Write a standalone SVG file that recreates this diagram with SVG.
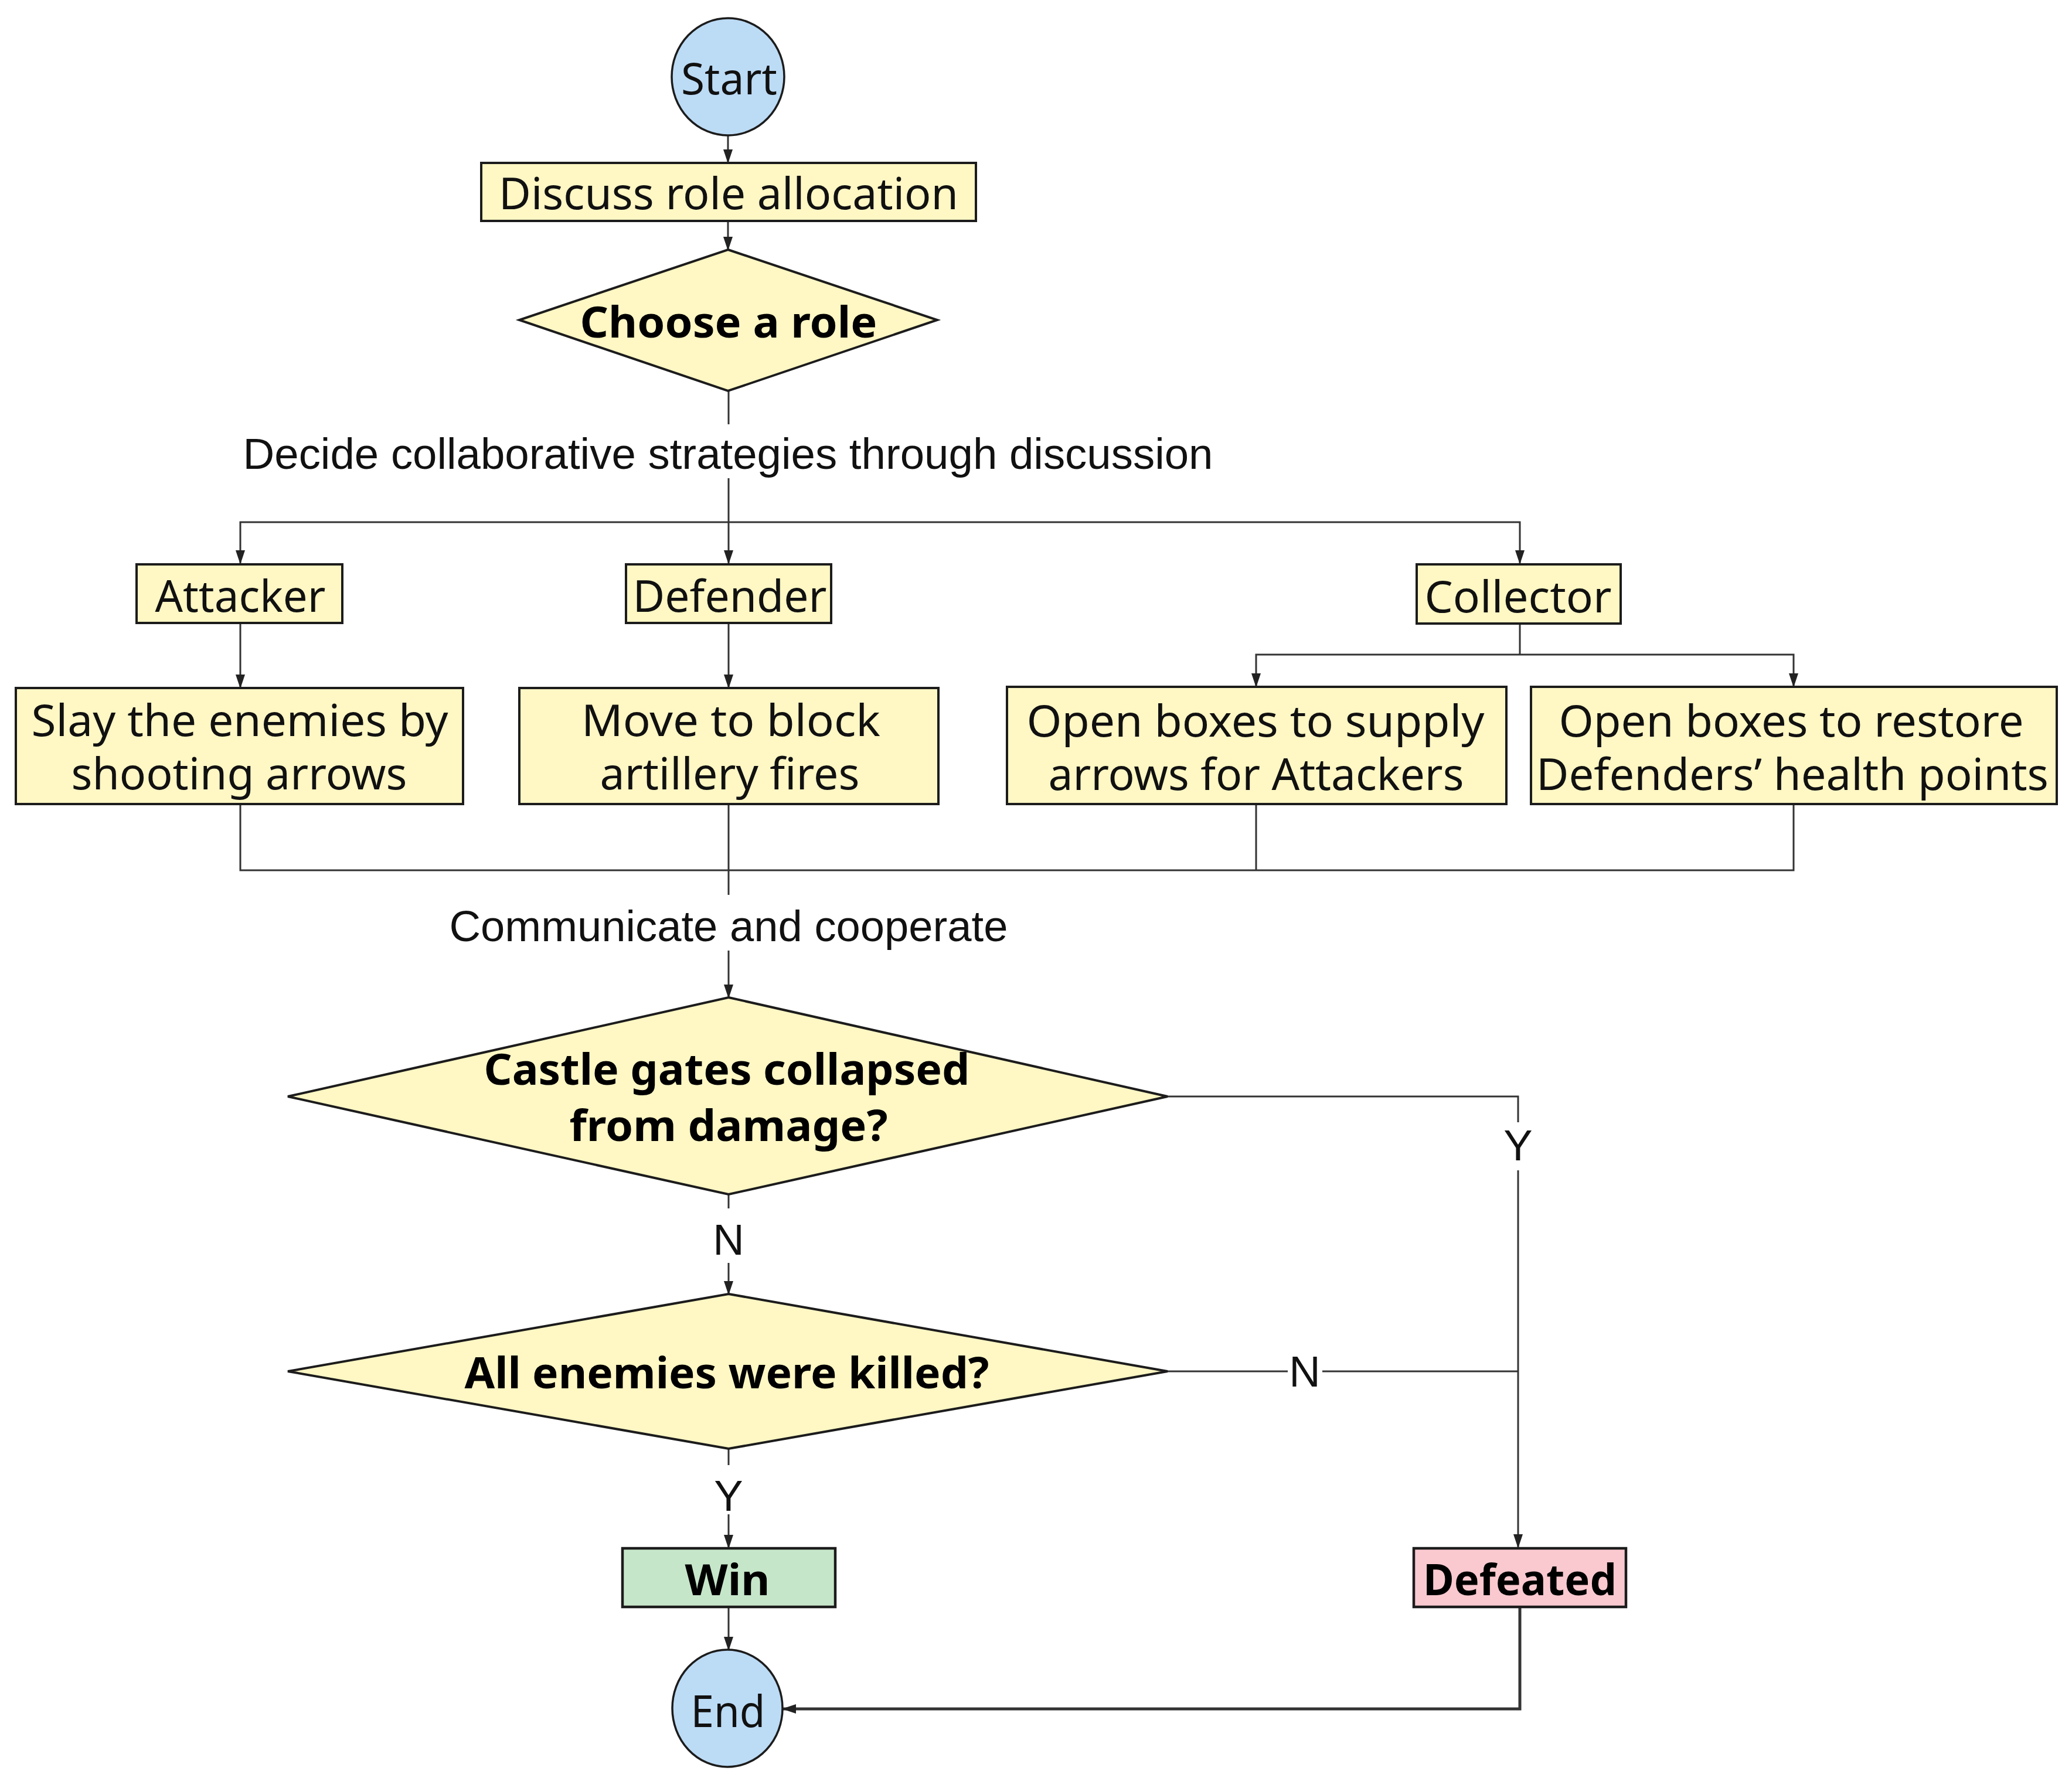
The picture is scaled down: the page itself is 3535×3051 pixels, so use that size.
<svg xmlns="http://www.w3.org/2000/svg" width="3535" height="3051" viewBox="0 0 3535 3051">
<defs>
<marker id="arr" markerUnits="userSpaceOnUse" markerWidth="24" markerHeight="16" refX="22" refY="8" orient="auto-start-reverse" viewBox="0 0 24 16">
<path d="M0,0 L24,8 L0,16 Z" fill="#222"/>
</marker>
<style>
.box{fill:#FFF7C4;stroke:#1c1c1c;stroke-width:4}
.term{fill:#BCDBF5;stroke:#1c1c1c;stroke-width:3.5}
.win{fill:#C6E6C9;stroke:#1c1c1c;stroke-width:4.5}
.lose{fill:#FAC9CF;stroke:#1c1c1c;stroke-width:4.5}
.t{font-family:"Noto Sans","Open Sans","Liberation Sans",sans-serif;font-size:74px;fill:#111;text-anchor:middle}
.b{font-family:"Noto Sans","Open Sans","Liberation Sans",sans-serif;font-size:74px;font-weight:bold;fill:#000;text-anchor:middle}
.l{font-family:"Liberation Sans",Arial,sans-serif;font-size:74px;fill:#111;text-anchor:middle}
.c{fill:none;stroke:#333;stroke-width:3}
</style>
</defs>
<rect width="3535" height="3051" fill="#fff"/>
<g id="connectors">
<line class="c" x1="1242" y1="231" x2="1242" y2="277" marker-end="url(#arr)"/>
<line class="c" x1="1242" y1="377" x2="1242" y2="426" marker-end="url(#arr)"/>
<line class="c" x1="1243" y1="667" x2="1243" y2="724"/>
<line class="c" x1="1243" y1="816" x2="1243" y2="961" marker-end="url(#arr)"/>
<polyline class="c" points="410,961 410,891 2593,891 2593,961" marker-start="url(#arr)" marker-end="url(#arr)"/>
<line class="c" x1="410" y1="1063" x2="410" y2="1173" marker-end="url(#arr)"/>
<line class="c" x1="1243" y1="1063" x2="1243" y2="1173" marker-end="url(#arr)"/>
<line class="c" x1="2593" y1="1064" x2="2593" y2="1117"/>
<polyline class="c" points="2143,1171 2143,1117 3060,1117 3060,1171" marker-start="url(#arr)" marker-end="url(#arr)"/>
<polyline class="c" points="410,1372 410,1485 3060,1485 3060,1372"/>
<line class="c" x1="2143" y1="1372" x2="2143" y2="1485"/>
<line class="c" x1="1243" y1="1372" x2="1243" y2="1527"/>
<line class="c" x1="1243" y1="1622" x2="1243" y2="1702" marker-end="url(#arr)"/>
<polyline class="c" points="1992,1871 2590,1871 2590,1915"/>
<line class="c" x1="2590" y1="1997" x2="2590" y2="2640" marker-end="url(#arr)"/>
<line class="c" x1="1243" y1="2038" x2="1243" y2="2062"/>
<line class="c" x1="1243" y1="2155" x2="1243" y2="2208" marker-end="url(#arr)"/>
<line class="c" x1="1992" y1="2340" x2="2197" y2="2340"/>
<line class="c" x1="2256" y1="2340" x2="2590" y2="2340"/>
<line class="c" x1="1243" y1="2472" x2="1243" y2="2500"/>
<line class="c" x1="1243" y1="2584" x2="1243" y2="2641" marker-end="url(#arr)"/>
<line class="c" x1="1243" y1="2742" x2="1243" y2="2815" marker-end="url(#arr)"/>
<polyline class="c" style="stroke-width:5" points="2593,2742 2593,2916 1336,2916" marker-end="url(#arr)"/>
<text class="l" x="1242" y="800" textLength="1655" lengthAdjust="spacingAndGlyphs">Decide collaborative strategies through discussion</text>
<text class="l" x="1243" y="1606" textLength="953" lengthAdjust="spacingAndGlyphs">Communicate and cooperate</text>
<text class="l" x="2590" y="1980">Y</text>
<text class="l" x="1243" y="2141">N</text>
<text class="l" x="2226" y="2366">N</text>
<text class="l" x="1243" y="2578">Y</text>
</g>
<g id="start">
<ellipse class="term" cx="1242" cy="131" rx="96" ry="100"/>
<text class="t" x="1244" y="161" font-size="80" textLength="164" lengthAdjust="spacingAndGlyphs">Start</text>
</g>
<g id="discuss">
<rect class="box" x="821" y="278" width="844" height="99"/>
<text class="t" x="1243" y="357" textLength="784" lengthAdjust="spacingAndGlyphs">Discuss role allocation</text>
</g>
<g id="choose">
<polygon class="box" points="1242,426 1599,546 1242,667 886,546"/>
<text class="b" x="1243" y="576" textLength="507" lengthAdjust="spacingAndGlyphs">Choose a role</text>
</g>
<g id="attacker">
<rect class="box" x="233" y="963" width="351" height="100"/>
<text class="t" x="410" y="1044" textLength="291" lengthAdjust="spacingAndGlyphs">Attacker</text>
</g>
<g id="defender">
<rect class="box" x="1068" y="963" width="350" height="100"/>
<text class="t" x="1245" y="1044" textLength="331" lengthAdjust="spacingAndGlyphs">Defender</text>
</g>
<g id="collector">
<rect class="box" x="2417" y="963" width="348" height="101"/>
<text class="t" x="2590" y="1045" textLength="319" lengthAdjust="spacingAndGlyphs">Collector</text>
</g>
<g id="slay">
<rect class="box" x="27" y="1174" width="763" height="198"/>
<text class="t" x="409" y="1256" textLength="711" lengthAdjust="spacingAndGlyphs">Slay the enemies by</text>
<text class="t" x="408" y="1347" textLength="573" lengthAdjust="spacingAndGlyphs">shooting arrows</text>
</g>
<g id="move">
<rect class="box" x="886" y="1174" width="715" height="198"/>
<text class="t" x="1247" y="1256" textLength="510" lengthAdjust="spacingAndGlyphs">Move to block</text>
<text class="t" x="1245" y="1347" textLength="443" lengthAdjust="spacingAndGlyphs">artillery fires</text>
</g>
<g id="supply">
<rect class="box" x="1718" y="1172" width="852" height="200"/>
<text class="t" x="2142" y="1257" textLength="781" lengthAdjust="spacingAndGlyphs">Open boxes to supply</text>
<text class="t" x="2143" y="1348" textLength="709" lengthAdjust="spacingAndGlyphs">arrows for Attackers</text>
</g>
<g id="restore">
<rect class="box" x="2612" y="1172" width="897" height="200"/>
<text class="t" x="3056" y="1257" textLength="793" lengthAdjust="spacingAndGlyphs">Open boxes to restore</text>
<text class="t" x="3058" y="1348" textLength="874" lengthAdjust="spacingAndGlyphs">Defenders’ health points</text>
</g>
<g id="castle">
<polygon class="box" points="1243,1702 1992,1871 1243,2038 491,1871"/>
<text class="b" x="1240" y="1851" font-size="68" textLength="829" lengthAdjust="spacingAndGlyphs">Castle gates collapsed</text>
<text class="b" x="1243" y="1947" font-size="68" textLength="543" lengthAdjust="spacingAndGlyphs">from damage?</text>
</g>
<g id="killed">
<polygon class="box" points="1243,2208 1992,2340 1243,2472 491,2340"/>
<text class="b" x="1240" y="2369" textLength="895" lengthAdjust="spacingAndGlyphs">All enemies were killed?</text>
</g>
<g id="win">
<rect class="win" x="1062" y="2642" width="363" height="100"/>
<text class="b" x="1241" y="2722" font-size="78" textLength="145" lengthAdjust="spacingAndGlyphs">Win</text>
</g>
<g id="defeated">
<rect class="lose" x="2412" y="2642" width="362" height="100"/>
<text class="b" x="2593" y="2722" font-size="78" textLength="330" lengthAdjust="spacingAndGlyphs">Defeated</text>
</g>
<g id="end">
<ellipse class="term" cx="1241" cy="2915" rx="94" ry="100"/>
<text class="t" x="1242" y="2947" font-size="80" textLength="127" lengthAdjust="spacingAndGlyphs">End</text>
</g>
</svg>
